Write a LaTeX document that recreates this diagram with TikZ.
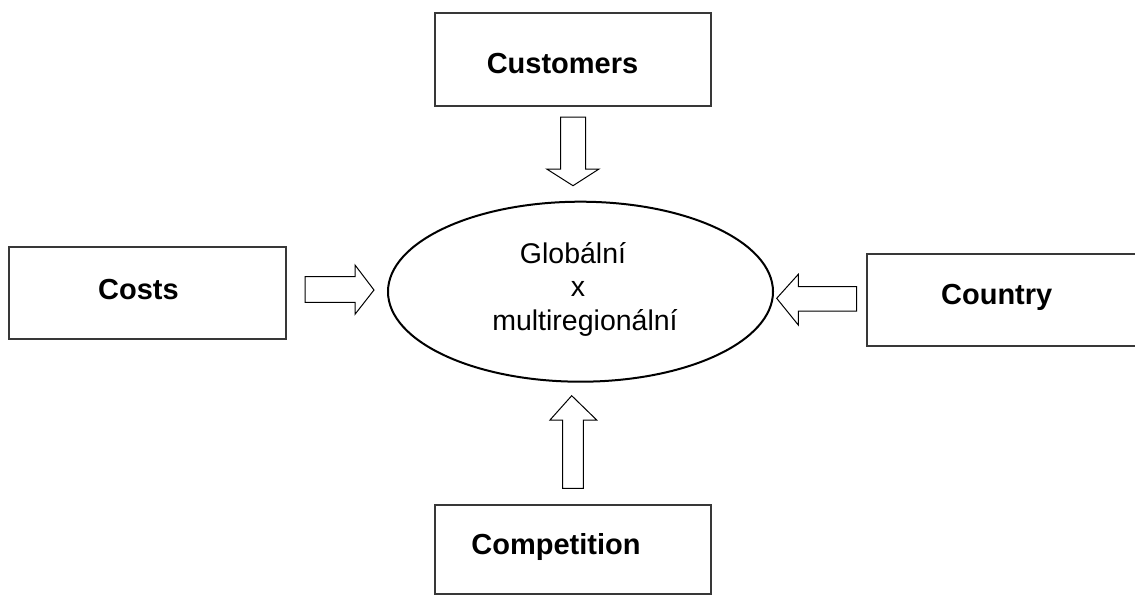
\documentclass[tikz,border=0pt]{standalone}
\usepackage{fontspec}
\setmainfont{Liberation Sans}
\usetikzlibrary{shapes.geometric}
\tikzset{
  factorbox/.style={draw=black!78, line width=2pt, rectangle, inner sep=0pt},
  factorlabel/.style={anchor=base, inner sep=0pt, font=\fontsize{29}{34}\selectfont\bfseries},
  centrelabel/.style={anchor=base, inner sep=0pt, font=\fontsize{28.5}{34}\selectfont},
  core/.style={draw=black, line width=2pt, ellipse, inner sep=0pt},
  blockarrow/.style={draw=black, line width=1pt, fill=white, line join=miter}
}
\begin{document}
\begin{tikzpicture}[x=1pt, y=-1pt]
  \useasboundingbox (0,0) rectangle (1135,595);

  % four influence boxes
  \node[factorbox, minimum width=276pt, minimum height=93pt] (customers) at (573,59.5) {};
  \node[factorbox, minimum width=276.4pt, minimum height=92pt] (costs) at (147.5,293.3) {};
  \node[factorbox, minimum width=273.3pt, minimum height=92pt] (country) at (1003.35,300) {};
  \node[factorbox, minimum width=276pt, minimum height=89pt] (competition) at (573,549.5) {};

  \node[factorlabel] (customersText) at (562.5,73) {Customers};
  \node[factorlabel] (costsText) at (138.5,299.3) {Costs};
  \node[factorlabel] (countryText) at (996.7,304.3) {Country};
  \node[factorlabel] (competitionText) at (556,554) {Competition};

  % central ellipse
  \node[core, minimum width=385pt, minimum height=180pt] (centre) at (580.5,291.7) {};
  \node[centrelabel] (lineA) at (573,263.3) {Globální};
  \node[centrelabel] (lineB) at (578,296.5) {x};
  \node[centrelabel] (lineC) at (585,330.7) {multiregionální};

  % block arrows pointing at the ellipse
  \draw[blockarrow] (560.7,117) -- (585.7,117) -- (585.7,169) -- (599,169)
    -- (573,185.7) -- (546.7,169) -- (560.7,169) -- cycle;
  \draw[blockarrow] (305,276.7) -- (355,276.7) -- (355,265) -- (374,290)
    -- (355,314.3) -- (355,302.3) -- (305,302.3) -- cycle;
  \draw[blockarrow] (856.7,286.7) -- (798.3,286.7) -- (798.3,274.3) -- (776.7,298.3)
    -- (798.3,325) -- (798.3,311) -- (856.7,311) -- cycle;
  \draw[blockarrow] (562.7,488.3) -- (562.7,420) -- (550,420) -- (571.7,395.7)
    -- (596.7,420) -- (583.3,420) -- (583.3,488.3) -- cycle;
\end{tikzpicture}
\end{document}
